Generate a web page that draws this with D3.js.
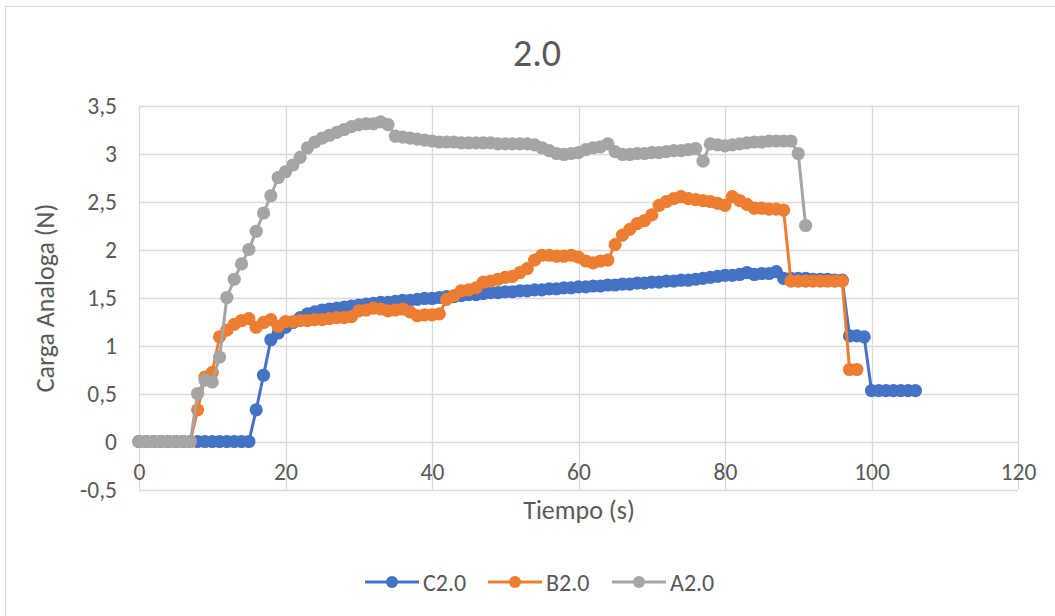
<!DOCTYPE html>
<html>
<head>
<meta charset="utf-8">
<script src="https://cdn.jsdelivr.net/npm/d3@7"></script>
<style>
  body { margin: 0; background: #fff; }
  text { font-family: Calibri, Carlito, "Open Sans", sans-serif; fill: #595959; }
</style>
</head>
<body>
<svg id="chart"></svg>
<script>
// series values, one reading per second
let seriesNames = ['C2.0', 'B2.0', 'A2.0']
let seriesColors = ['#4472C4', '#ED7D31', '#A5A5A5']

let c20 = [0,0,0,0,0,0,0,0,0,0,0,0,0,0,0,0,
  0.33,0.69,1.06,1.13,1.19,1.24,1.29,1.33,1.35,1.37,1.38,1.39,1.40,1.41,
  1.42,1.43,1.44,1.45,1.45,1.46,1.47,1.47,1.48,1.49,1.49,1.50,1.51,1.51,1.52,1.53,
  1.53,1.54,1.55,1.55,1.56,1.56,1.57,1.57,1.58,1.58,1.59,1.59,1.60,1.60,
  1.61,1.61,1.62,1.62,1.63,1.63,1.64,1.64,1.65,1.65,1.66,1.66,1.67,1.67,1.68,1.68,
  1.69,1.70,1.71,1.72,1.73,1.73,1.74,1.76,1.74,1.75,1.75,1.77,1.70,1.70,
  1.70,1.70,1.69,1.69,1.69,1.68,1.68,1.10,1.10,1.09,
  0.53,0.53,0.53,0.53,0.53,0.53,0.53]

let b20 = [0,0,0,0,0,0,0,0,
  0.33,0.67,0.72,1.09,1.16,1.22,1.26,1.28,1.19,1.24,1.27,1.20,
  1.25,1.25,1.26,1.26,1.27,1.27,1.28,1.29,1.29,1.30,
  1.36,1.37,1.39,1.38,1.36,1.37,1.38,1.35,1.31,1.32,
  1.32,1.33,1.48,1.52,1.57,1.58,1.60,1.66,1.67,1.69,
  1.71,1.72,1.76,1.80,1.89,1.94,1.94,1.93,1.93,1.94,
  1.92,1.88,1.86,1.88,1.89,2.05,2.15,2.21,2.27,2.30,
  2.36,2.46,2.50,2.53,2.55,2.53,2.52,2.51,2.50,2.48,
  2.46,2.55,2.51,2.47,2.43,2.43,2.42,2.42,2.41,1.67,
  1.67,1.67,1.67,1.67,1.67,1.67,1.67,0.75,0.75]

let a20 = [0,0,0,0,0,0,0,0,
  0.50,0.64,0.62,0.88,1.50,1.69,1.85,2.00,2.19,2.38,2.56,2.75,
  2.81,2.88,2.96,3.06,3.12,3.16,3.19,3.22,3.25,3.28,
  3.30,3.31,3.31,3.33,3.30,3.18,3.17,3.16,3.15,3.14,
  3.13,3.12,3.12,3.12,3.11,3.11,3.11,3.11,3.11,3.10,
  3.10,3.10,3.10,3.10,3.09,3.06,3.03,3.00,2.99,3.00,
  3.01,3.04,3.06,3.07,3.10,3.02,2.99,2.99,3.00,3.00,
  3.01,3.01,3.02,3.03,3.03,3.04,3.05,2.92,3.10,3.09,
  3.08,3.09,3.10,3.11,3.12,3.12,3.13,3.13,3.13,3.13,
  3.00,2.25]

let xTicks = [0, 20, 40, 60, 80, 100, 120]
let yTicks = [-0.5, 0, 0.5, 1, 1.5, 2, 2.5, 3, 3.5]

let width = 1055
let height = 616

let svg = d3.select('#chart').attr('width', width).attr('height', height)

// chart frame
svg.append('rect')
  .attr('x', 5.5).attr('y', 6.5)
  .attr('width', width + 10).attr('height', height + 10)
  .attr('fill', '#fff')
  .attr('stroke', '#d9d9d9')

let xScale = d3.scaleLinear().domain([0, 120]).range([139, 1018])
let yScale = d3.scaleLinear().domain([-0.5, 3.5]).range([489.5, 105.5])

// grid
let grid = svg.append('g')
grid.selectAll('.hg').data(yTicks).enter().append('line')
  .attr('x1', xScale(0)).attr('x2', xScale(120))
  .attr('y1', d => Math.round(yScale(d)) + 0.5)
  .attr('y2', d => Math.round(yScale(d)) + 0.5)
  .attr('stroke', '#d9d9d9').attr('stroke-width', 1.3)
grid.selectAll('.vg').data(xTicks).enter().append('line')
  .attr('y1', yScale(-0.5)).attr('y2', yScale(3.5))
  .attr('x1', d => Math.round(xScale(d)) + 0.5)
  .attr('x2', d => Math.round(xScale(d)) + 0.5)
  .attr('stroke', '#d9d9d9').attr('stroke-width', 1.3)

// tick labels
let fontFam = 'Calibri, Carlito, "Open Sans", sans-serif'
let axisY = d3.axisLeft(yScale).tickValues(yTicks)
  .tickFormat(d => String(d).replace('.', ','))
  .tickSize(0).tickPadding(22)
let gy = svg.append('g').attr('transform', `translate(${xScale(0)},0)`).call(axisY)
gy.select('.domain').remove()
gy.selectAll('text').attr('font-size', 23.5).attr('fill', '#595959')
  .style('font-family', fontFam)

let axisX = d3.axisBottom(xScale).tickValues(xTicks).tickSize(0).tickPadding(22)
let gx = svg.append('g').attr('transform', `translate(0,${yScale(0)})`).call(axisX)
gx.select('.domain').remove()
gx.selectAll('text').attr('font-size', 23.5).attr('fill', '#595959')
  .style('font-family', fontFam)

// titles
svg.append('text')
  .attr('x', 537).attr('y', 66)
  .attr('text-anchor', 'middle')
  .attr('font-size', 38).attr('font-weight', 300)
  .text('2.0')

svg.append('text')
  .attr('transform', 'translate(54,298) rotate(-90)')
  .attr('text-anchor', 'middle')
  .attr('font-size', 26)
  .text('Carga Analoga (N)')

svg.append('text')
  .attr('x', 579).attr('y', 519)
  .attr('text-anchor', 'middle')
  .attr('font-size', 26)
  .text('Tiempo (s)')

// series
let allSeries = [c20, b20, a20]
let lineGen = d3.line()
  .x((d, i) => xScale(i))
  .y(d => yScale(d))

allSeries.forEach((vals, k) => {
  let g = svg.append('g')
  g.append('path')
    .datum(vals)
    .attr('d', lineGen)
    .attr('fill', 'none')
    .attr('stroke', seriesColors[k])
    .attr('stroke-width', 3)
    .attr('stroke-linejoin', 'round')
  g.selectAll('circle').data(vals).enter().append('circle')
    .attr('cx', (d, i) => xScale(i))
    .attr('cy', d => yScale(d))
    .attr('r', 6.6)
    .attr('fill', seriesColors[k])
})

// legend
let legX = [365, 488, 612]
let legend = svg.append('g')
seriesNames.forEach((name, k) => {
  let lg = legend.append('g').attr('transform', `translate(${legX[k]},582)`)
  lg.append('line').attr('x1', 0).attr('x2', 54).attr('y1', 0).attr('y2', 0)
    .attr('stroke', seriesColors[k]).attr('stroke-width', 3)
  lg.append('circle').attr('cx', 27).attr('cy', 0).attr('r', 6)
    .attr('fill', seriesColors[k])
  lg.append('text').attr('x', 58).attr('y', 8.5)
    .attr('font-size', 24).text(name)
})
</script>
</body>
</html>
